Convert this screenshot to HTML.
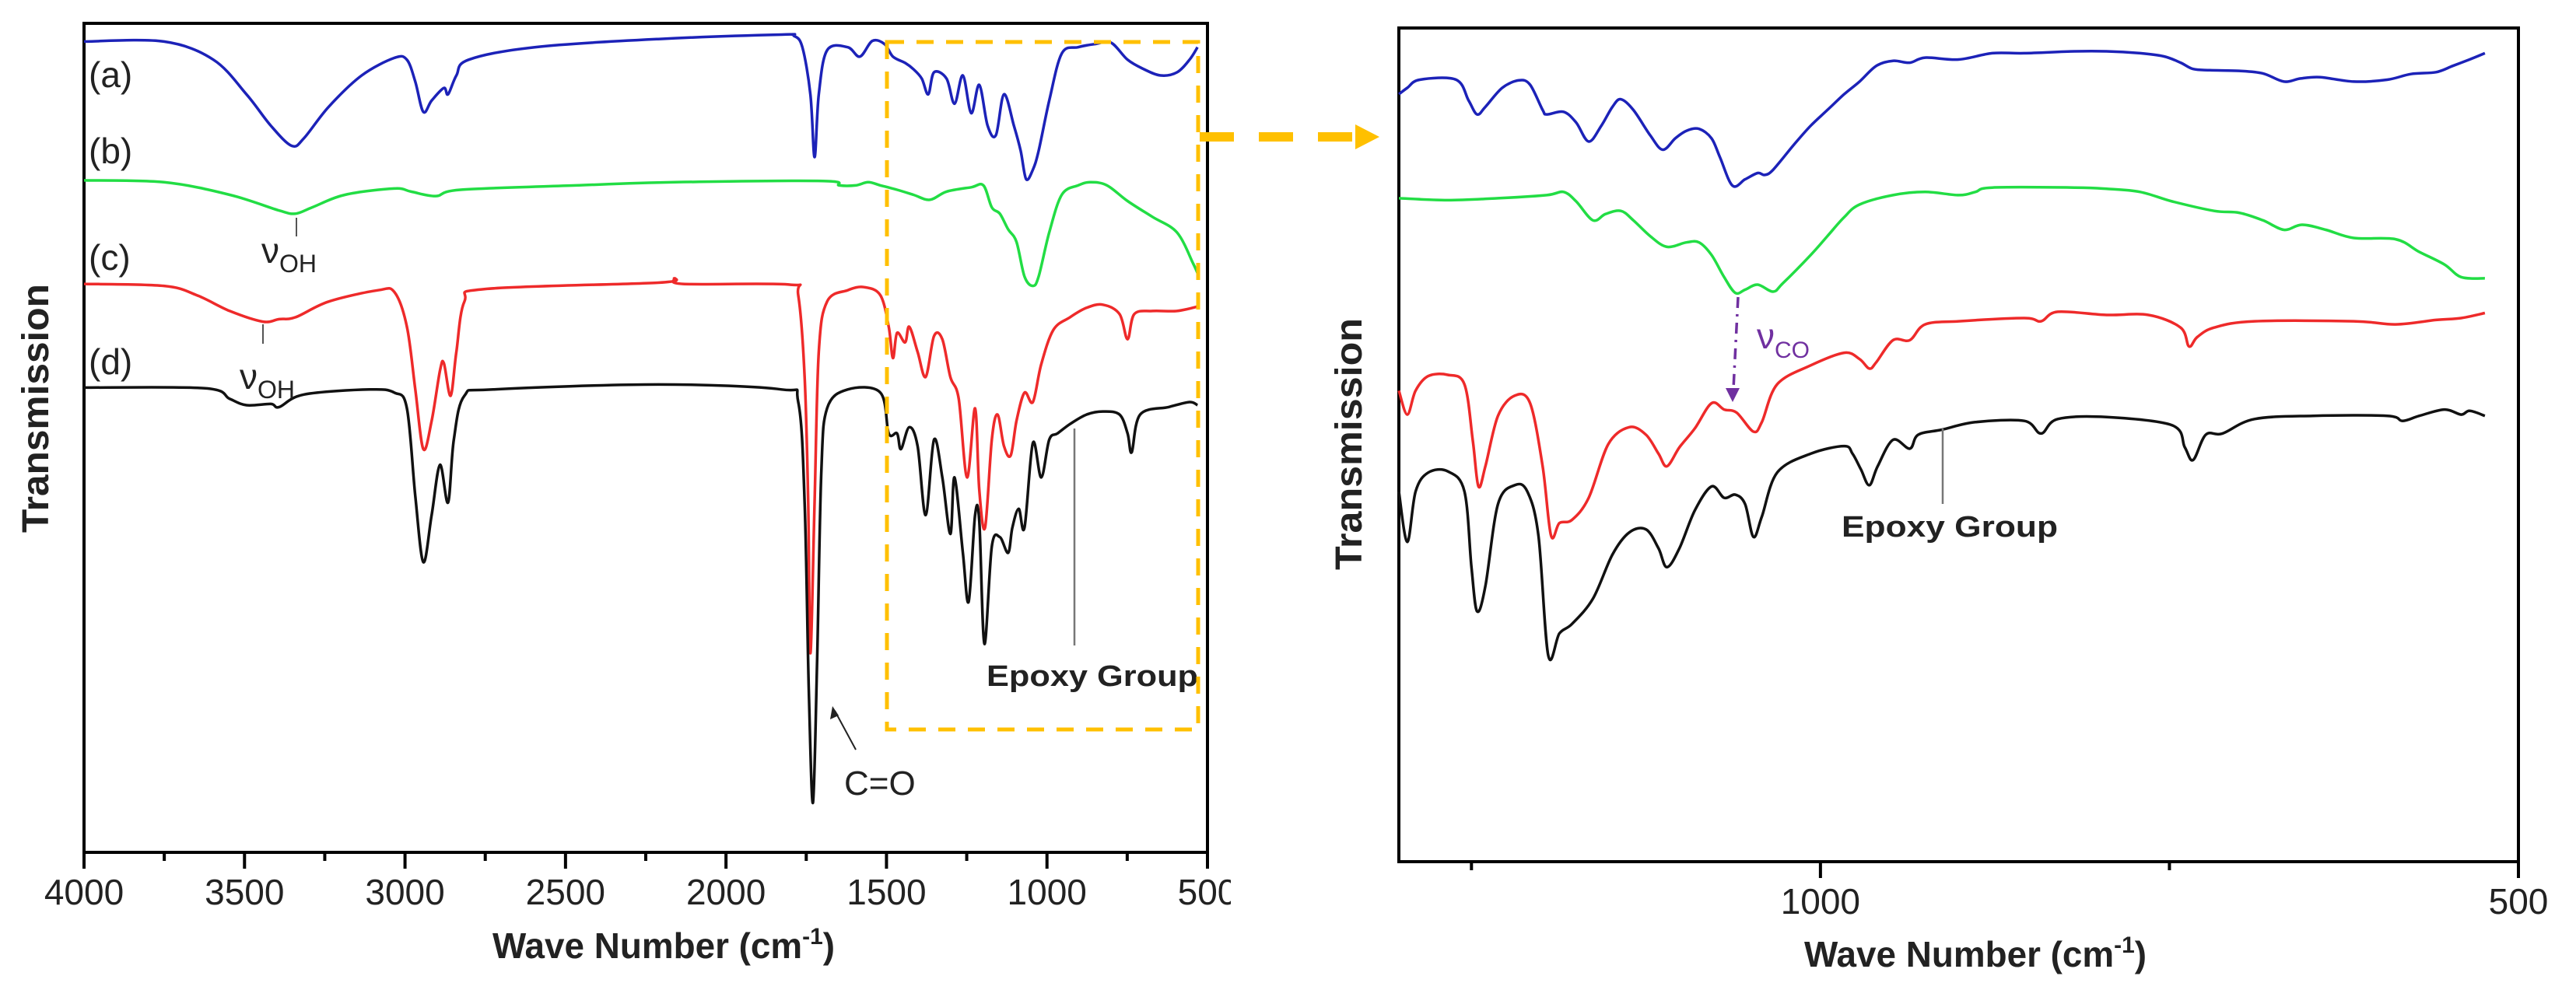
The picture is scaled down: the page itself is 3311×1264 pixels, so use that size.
<!DOCTYPE html>
<html><head><meta charset="utf-8"><style>
html,body{margin:0;padding:0;background:#fff;}
svg{display:block;font-family:"Liberation Sans",sans-serif;}
</style></head><body>
<svg id="fig" width="3311" height="1264" viewBox="0 0 3311 1264" xmlns="http://www.w3.org/2000/svg">
<defs>
<clipPath id="clipL"><rect x="0" y="0" width="1582" height="1264"/></clipPath>
</defs>
<g id="left" clip-path="url(#clipL)"></g>
<g id="right"></g>
</svg>
<script>
// ---------- Left panel data (wavenumber, transmission a.u.) ----------
const leftTicks = [4000,3500,3000,2500,2000,1500,1000,500];
const leftMinorTicks = [3750,3250,2750,2250,1750,1250,750];
const aWn = [4000,3751,3597,3494,3418,3353,3315,3238,3135,3033,2994,2968,2943,2917,2879,2866,2840,2802,2596,2211,1827,1788,1762,1737,1724,1711,1685,1621,1583,1544,1506,1480,1442,1416,1390,1370,1352,1313,1288,1262,1236,1211,1185,1159,1134,1103,1082,1065,1044,1026,993,954,903,851,800,749,698,646,595,556,531];
const aT = [1291,1291,1262,1207,1157,1125,1137,1187,1237,1265,1262,1227,1179,1197,1217,1207,1237,1262,1282,1295,1302,1300,1282,1207,1107,1207,1277,1282,1267,1292,1287,1267,1257,1247,1232,1207,1242,1232,1192,1237,1177,1222,1157,1142,1207,1157,1117,1072,1087,1117,1197,1272,1282,1287,1289,1262,1247,1237,1242,1262,1282];
const bWn = [4000,3751,3546,3392,3341,3289,3187,3033,2981,2904,2827,2468,2160,1698,1647,1596,1557,1519,1467,1416,1365,1313,1236,1198,1172,1147,1121,1095,1070,1044,1026,993,954,903,864,813,749,672,595,544,531];
const bT = [1070,1067,1047,1022,1017,1027,1047,1057,1052,1045,1055,1062,1067,1069,1062,1062,1067,1062,1055,1047,1039,1052,1059,1062,1027,1017,992,972,917,902,917,987,1047,1062,1067,1062,1037,1012,987,937,922];
const cWn = [4000,3751,3648,3546,3443,3392,3341,3238,3084,3033,2994,2968,2943,2917,2891,2879,2858,2840,2815,2750,2211,2160,2134,1801,1775,1755,1744,1737,1724,1711,1685,1621,1570,1519,1493,1480,1467,1442,1429,1403,1378,1352,1326,1301,1275,1249,1224,1211,1193,1172,1154,1134,1113,1095,1070,1044,1018,980,928,877,826,774,749,728,672,595,531];
const cT = [905,902,887,862,845,849,852,877,895,892,837,737,642,687,767,779,727,797,877,897,907,914,905,904,887,757,557,317,557,797,877,895,900,887,837,787,827,812,837,797,757,822,817,757,722,597,707,577,517,657,697,647,632,687,732,717,777,832,852,867,872,857,817,857,862,862,869];
const dWn = [4000,3623,3546,3494,3418,3392,3315,3110,3033,2994,2968,2943,2917,2891,2866,2848,2815,2725,2211,1827,1775,1755,1742,1729,1716,1703,1685,1621,1519,1493,1467,1455,1429,1403,1378,1352,1326,1301,1288,1262,1244,1224,1211,1195,1172,1147,1121,1108,1088,1070,1044,1018,993,967,928,877,826,774,749,736,710,621,556,531];
const dT = [740,739,722,712,714,709,729,737,732,707,567,462,537,617,557,657,727,737,745,737,717,557,257,79,307,607,707,737,732,667,667,642,677,647,537,657,597,507,597,477,399,537,527,332,487,502,477,517,547,517,652,597,657,667,682,697,702,697,667,637,697,709,717,712];

// ---------- Right panel data ----------
const rightTicks = [1000,500];
const rightMinorTicks = [1250,750];
const raWn = [1302,1296,1287,1261,1252,1246,1240,1228,1216,1208,1199,1196,1184,1175,1166,1157,1149,1143,1134,1122,1113,1104,1096,1087,1078,1072,1063,1054,1045,1040,1034,1019,1007,995,983,972,960,948,936,925,901,877,854,818,795,771,754,742,733,721,700,683,668,656,642,618,594,577,559,547,535,524];
const raT = [1217,1227,1240,1240,1207,1185,1197,1227,1239,1232,1192,1185,1189,1172,1142,1167,1197,1209,1192,1152,1129,1147,1159,1162,1147,1117,1072,1082,1092,1089,1097,1137,1167,1192,1217,1237,1262,1270,1267,1275,1272,1282,1282,1285,1285,1282,1277,1267,1257,1255,1254,1250,1237,1242,1244,1237,1240,1249,1252,1262,1272,1282];
const rbWn = [1302,1267,1231,1196,1184,1175,1163,1154,1143,1134,1122,1110,1096,1087,1078,1069,1061,1054,1045,1034,1027,1007,995,983,972,948,925,901,889,877,818,795,771,748,718,700,683,668,655,638,618,588,571,553,541,524];
const rbT = [1052,1049,1052,1057,1062,1047,1017,1027,1032,1017,992,975,982,982,962,927,902,907,915,904,917,962,992,1022,1042,1057,1062,1057,1062,1069,1069,1067,1062,1047,1032,1029,1017,1002,1010,1002,989,987,967,947,927,925];
const rcWn = [1302,1296,1290,1281,1267,1255,1249,1245,1240,1231,1219,1208,1199,1193,1187,1178,1166,1152,1137,1125,1116,1110,1101,1090,1078,1069,1060,1048,1042,1031,1007,983,972,965,960,948,936,925,901,854,842,830,795,765,742,736,730,718,689,618,588,559,541,524];
const rcT = [747,709,747,770,772,757,667,595,627,707,739,727,627,517,537,542,577,662,689,677,647,627,657,687,727,717,712,682,697,757,787,807,797,782,792,827,827,852,857,862,857,872,867,867,847,817,832,847,857,857,852,859,862,870];
const rdWn = [1302,1296,1290,1281,1267,1255,1250,1246,1240,1231,1219,1210,1202,1195,1187,1178,1163,1149,1137,1125,1116,1110,1101,1090,1078,1069,1061,1054,1048,1042,1031,1007,983,977,971,965,959,948,936,930,913,889,854,842,830,795,748,739,733,724,712,689,647,594,583,571,553,541,535,524];
const rdT = [587,507,587,617,619,587,467,397,437,567,597,587,517,327,362,377,417,487,522,527,497,467,497,557,595,577,582,567,515,547,617,647,659,647,622,597,627,669,655,677,685,697,699,679,702,705,692,657,637,677,679,702,707,707,699,707,717,709,715,707];

const NS = "http://www.w3.org/2000/svg";
function mk(parent, tag, attrs, text){
  const e = document.createElementNS(NS, tag);
  for (const k in attrs) e.setAttribute(k, attrs[k]);
  if (text !== undefined) e.textContent = text;
  parent.appendChild(e);
  return e;
}
const L = {x0:108, x1:1552, y0:1096, y1:30, wMax:4000, wMin:500, tMax:1320};
const R = {x0:1798, x1:3237, y0:1108, y1:36, wMax:1302, wMin:500, tMax:1322};
function xs(P, w){ return P.x0 + (P.wMax - w) / (P.wMax - P.wMin) * (P.x1 - P.x0); }
function ys(P, t){ return P.y0 - t / P.tMax * (P.y0 - P.y1); }

function drawSeries(g, P, wn, t, color, name){
  const pts = wn.map((w, i) => [xs(P, w), ys(P, t[i])]);
  let d = "M" + pts[0][0].toFixed(1) + "," + pts[0][1].toFixed(1);
  for (let i = 0; i < pts.length - 1; i++) {
    const p0 = pts[Math.max(0, i - 1)], p1 = pts[i], p2 = pts[i + 1], p3 = pts[Math.min(pts.length - 1, i + 2)];
    const c1x = p1[0] + (p2[0] - p0[0]) / 6, c1y = p1[1] + (p2[1] - p0[1]) / 6;
    const c2x = p2[0] - (p3[0] - p1[0]) / 6, c2y = p2[1] - (p3[1] - p1[1]) / 6;
    d += "C" + c1x.toFixed(1) + "," + c1y.toFixed(1) + " " + c2x.toFixed(1) + "," + c2y.toFixed(1) + " " + p2[0].toFixed(1) + "," + p2[1].toFixed(1);
  }
  const p = mk(g, "path", {d:d, fill:"none", stroke:color, "stroke-width":3.5, "stroke-linejoin":"round"});
  
  
}
function drawFrame(g, P, ticks, minor, frameName){
  const r = mk(g, "rect", {x:P.x0, y:P.y1, width:P.x1-P.x0, height:P.y0-P.y1, fill:"none", stroke:"#000", "stroke-width":4});
  
  
  ticks.forEach(v => {
    const x = xs(P, v);
    const l = mk(g, "line", {x1:x, y1:P.y0, x2:x, y2:P.y0+21, stroke:"#000", "stroke-width":4});
    
    
    const tx = mk(g, "text", {x:x, y:P.y0+67, "text-anchor":"middle", "font-size":46, fill:"#222"}, String(v));
    
    
  });
  minor.forEach(v => {
    const x = xs(P, v);
    const l = mk(g, "line", {x1:x, y1:P.y0, x2:x, y2:P.y0+11, stroke:"#000", "stroke-width":4});
    
    
  });
}

const gl = document.getElementById("left");
const gr = document.getElementById("right");
drawFrame(gl, L, leftTicks, leftMinorTicks, "left-plot-frame");
drawFrame(gr, R, rightTicks, rightMinorTicks, "right-plot-frame");

drawSeries(gl, L, aWn, aT, "#1c22b8", "series-a-line");
drawSeries(gl, L, bWn, bT, "#22dd44", "series-b-line");
drawSeries(gl, L, cWn, cT, "#ee2a2a", "series-c-line");
drawSeries(gl, L, dWn, dT, "#111111", "series-d-line");
drawSeries(gr, R, raWn, raT, "#1c22b8", "zoom-series-a-line");
drawSeries(gr, R, rbWn, rbT, "#22dd44", "zoom-series-b-line");
drawSeries(gr, R, rcWn, rcT, "#ee2a2a", "zoom-series-c-line");
drawSeries(gr, R, rdWn, rdT, "#111111", "zoom-series-d-line");
</script>
<svg style="position:absolute;left:0;top:0" width="3311" height="1264" viewBox="0 0 3311 1264" xmlns="http://www.w3.org/2000/svg" font-family="Liberation Sans, sans-serif">
  <text x="853" y="1232" text-anchor="middle" font-size="46" font-weight="bold" fill="#222" textLength="440" lengthAdjust="spacingAndGlyphs">Wave Number (cm<tspan font-size="30" dy="-18">-1</tspan><tspan dy="18">)</tspan></text>
  <text transform="translate(62,525) rotate(-90)" text-anchor="middle" font-size="48" font-weight="bold" fill="#222" textLength="320" lengthAdjust="spacingAndGlyphs">Transmission</text>
  <text x="2539" y="1243" text-anchor="middle" font-size="46" font-weight="bold" fill="#222" textLength="440" lengthAdjust="spacingAndGlyphs">Wave Number (cm<tspan font-size="30" dy="-18">-1</tspan><tspan dy="18">)</tspan></text>
  <text transform="translate(1750,571) rotate(-90)" text-anchor="middle" font-size="48" font-weight="bold" fill="#222" textLength="324" lengthAdjust="spacingAndGlyphs">Transmission</text>

  <text x="114" y="112" font-size="46" fill="#222">(a)</text>
  <text x="114" y="210" font-size="46" fill="#222">(b)</text>
  <text x="114" y="347" font-size="46" fill="#222">(c)</text>
  <text x="114" y="481" font-size="46" fill="#222">(d)</text>

  <line x1="381" y1="280" x2="381" y2="304" stroke="#555" stroke-width="2"/>
  <text x="336" y="338" font-size="46" fill="#222">ν<tspan font-size="32" dy="12">OH</tspan></text>
  <line x1="338" y1="417" x2="338" y2="442" stroke="#555" stroke-width="2"/>
  <text x="308" y="500" font-size="46" fill="#222">ν<tspan font-size="32" dy="12">OH</tspan></text>

  <line x1="1100" y1="964" x2="1073" y2="914" stroke="#222" stroke-width="2"/>
  <path d="M1070,908 L1067,925 L1078,920 z" fill="#222"/>
  <text x="1085" y="1022" font-size="44" fill="#222">C=O</text>

  <line x1="1381" y1="551" x2="1381" y2="830" stroke="#777" stroke-width="2.5"/>
  <text x="1268" y="882" font-size="38" font-weight="bold" fill="#222" textLength="272" lengthAdjust="spacingAndGlyphs">Epoxy Group</text>

  <rect x="1140" y="54" width="400" height="884" fill="none" stroke="#FFC000" stroke-width="5" stroke-dasharray="22,16"/>
  <line x1="1542" y1="176" x2="1745" y2="176" stroke="#FFC000" stroke-width="12" stroke-dasharray="44,32"/>
  <path d="M1742,160 L1773,176 L1742,192 z" fill="#FFC000"/>

  <line x1="2234" y1="382" x2="2228" y2="500" stroke="#7030A0" stroke-width="3.5" stroke-dasharray="14,8,3,8"/>
  <path d="M2218,499 L2236,499 L2227,517 z" fill="#7030A0"/>
  <text x="2258" y="448" font-size="46" fill="#7030A0">ν<tspan font-size="30" dy="12">CO</tspan></text>

  <line x1="2497" y1="551" x2="2497" y2="648" stroke="#777" stroke-width="2.5"/>
  <text x="2367" y="690" font-size="38" font-weight="bold" fill="#222" textLength="278" lengthAdjust="spacingAndGlyphs">Epoxy Group</text>
</svg>
</body></html>
